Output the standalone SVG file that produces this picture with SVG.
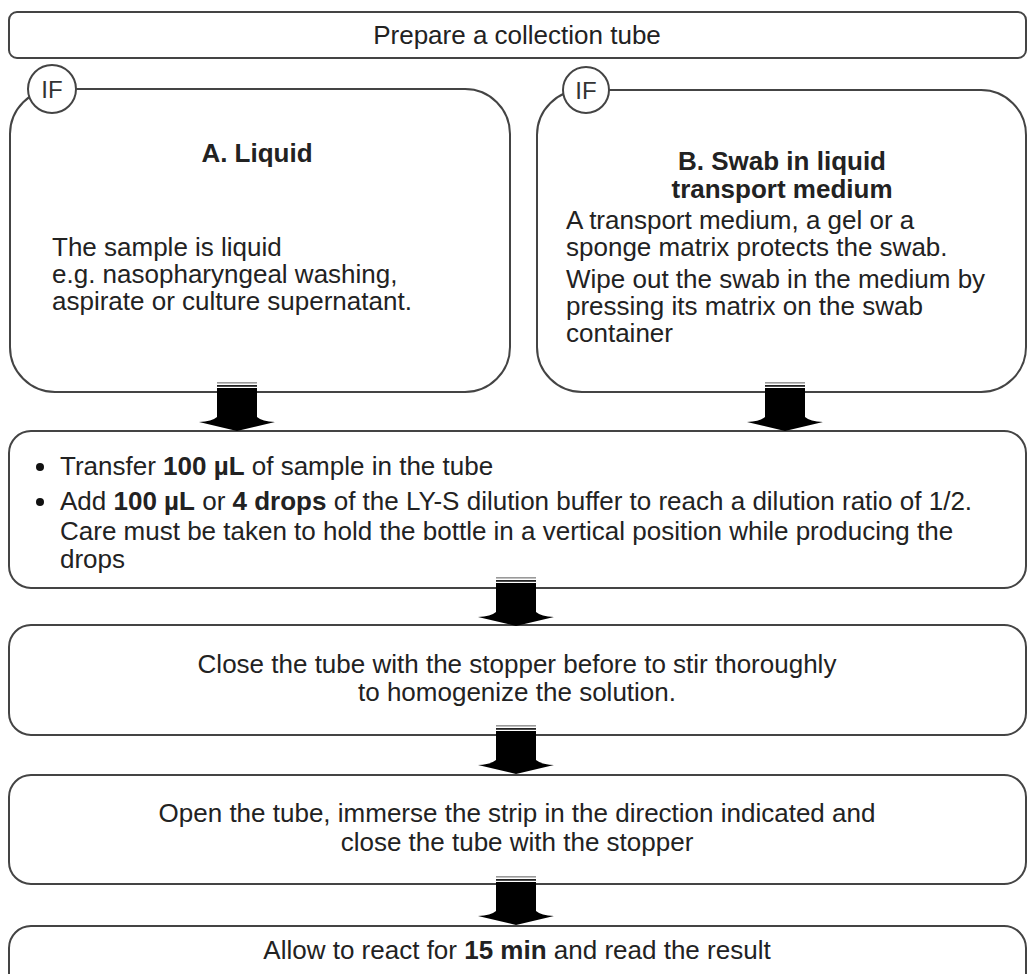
<svg xmlns="http://www.w3.org/2000/svg" width="1028" height="974" viewBox="0 0 1028 974">
<style>
.box{fill:#fff;stroke:#444;stroke-width:2}
.t{font-family:"Liberation Sans",Arial,sans-serif;font-size:26px;fill:#222}
.c{text-anchor:middle}
.b{font-weight:bold}
.if{font-family:"Liberation Sans",Arial,sans-serif;font-size:24px;fill:#333;text-anchor:middle}
</style>
<defs>
<g id="arrow">
<rect x="-20" y="0" width="40" height="1.6" fill="#999"/>
<rect x="-20" y="3" width="40" height="1.8" fill="#222"/>
<path d="M-20,6 H20 V35 Q25,39.5 38,40 L0,49 L-38,40 Q-25,39.5 -20,35 Z" fill="#000"/>
</g>
</defs>
<rect width="1028" height="974" fill="#fff"/>
<g id="prepare">
<rect class="box" x="9" y="12" width="1017" height="46" rx="8"/>
<text class="t c" x="517" y="44">Prepare a collection tube</text>
</g>
<g id="liquid">
<rect class="box" x="10" y="89" width="500" height="303" rx="45"/>
<circle cx="52" cy="89" r="24" fill="#fff" stroke="#444" stroke-width="2"/>
<text class="if" x="52" y="98">IF</text>
<text class="t c b" x="257" y="162">A. Liquid</text>
<text class="t" x="52" y="256">The sample is liquid</text>
<text class="t" x="52" y="283">e.g. nasopharyngeal washing,</text>
<text class="t" x="52" y="310">aspirate or culture supernatant.</text>
</g>
<g id="swab">
<rect class="box" x="537" y="90" width="489" height="302" rx="45"/>
<circle cx="586" cy="90" r="23" fill="#fff" stroke="#444" stroke-width="2"/>
<text class="if" x="586" y="99">IF</text>
<text class="t c b" x="782" y="170">B. Swab in liquid</text>
<text class="t c b" x="782" y="198">transport medium</text>
<text class="t" x="566" y="229">A transport medium, a gel or a</text>
<text class="t" x="566" y="256">sponge matrix protects the swab.</text>
<text class="t" x="566" y="288">Wipe out the swab in the medium by</text>
<text class="t" x="566" y="315">pressing its matrix on the swab</text>
<text class="t" x="566" y="342">container</text>
</g>
<g id="transfer">
<rect class="box" x="9" y="431" width="1017" height="157" rx="22"/>
<circle cx="40" cy="467" r="4" fill="#111"/>
<circle cx="40" cy="502" r="4" fill="#111"/>
<text class="t" x="60" y="475">Transfer <tspan class="b">100 µL</tspan> of sample in the tube</text>
<text class="t" x="60" y="510">Add <tspan class="b">100 µL</tspan> or <tspan class="b">4 drops</tspan> of the LY-S dilution buffer to reach a dilution ratio of 1/2.</text>
<text class="t" x="60" y="540">Care must be taken to hold the bottle in a vertical position while producing the</text>
<text class="t" x="60" y="568">drops</text>
</g>
<g id="close">
<rect class="box" x="9" y="625" width="1017" height="110" rx="22"/>
<text class="t c" x="517" y="673">Close the tube with the stopper before to stir thoroughly</text>
<text class="t c" x="517" y="701">to homogenize the solution.</text>
</g>
<g id="open">
<rect class="box" x="9" y="775" width="1017" height="109" rx="22"/>
<text class="t c" x="517" y="822">Open the tube, immerse the strip in the direction indicated and</text>
<text class="t c" x="517" y="851">close the tube with the stopper</text>
</g>
<g id="react">
<rect class="box" x="9" y="926" width="1017" height="80" rx="22"/>
<text class="t c" x="517" y="959">Allow to react for <tspan class="b">15 min</tspan> and read the result</text>
</g>
<g id="connectors">
<use href="#arrow" x="237" y="382"/>
<use href="#arrow" x="785" y="382"/>
<use href="#arrow" x="516" y="577"/>
<use href="#arrow" x="516" y="725"/>
<use href="#arrow" x="516" y="876"/>
</g>
</svg>
